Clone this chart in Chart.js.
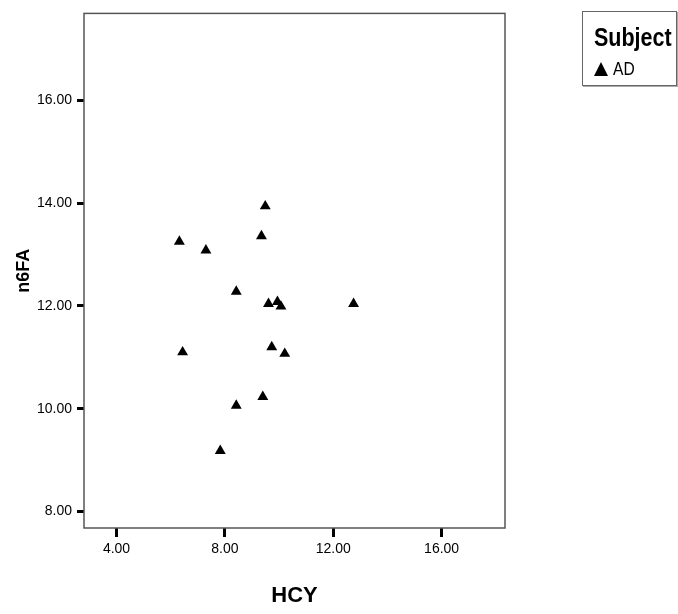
<!DOCTYPE html>
<html lang="en">
<head>
  <meta charset="UTF-8">
  <title>n6FA vs HCY</title>
  <script src="https://cdn.jsdelivr.net/npm/chart.js"></script>
  <style>
    body {
      margin: 0;
      background: #fff;
    }
    .wrap {
      position: relative;
      width: 678px;
      height: 614px;
      overflow: hidden;
    }
    .legend-box {
      position: absolute;
      left: 582px;
      top: 11px;
      width: 93px;
      height: 73px;
      border: 1px solid #666;
      box-shadow: 1px 1px 0 #aaa;
      font-family: "Liberation Sans", Arial, sans-serif;
      background: #fff;
    }
    .legend-title {
      position: absolute;
      left: 11px;
      top: 11px;
      font-weight: bold;
      font-size: 25px;
      line-height: 28px;
      white-space: nowrap;
      transform: scaleX(0.86);
      transform-origin: left center;
    }
    .legend-item {
      position: absolute;
      left: 11px;
      top: 48px;
      font-size: 19px;
      line-height: 18px;
      white-space: nowrap;
    }
    .legend-item .lbl {
      display: inline-block;
      transform: scaleX(0.82);
      transform-origin: left center;
    }
    .tri {
      display: inline-block;
      width: 0;
      height: 0;
      border-left: 7px solid transparent;
      border-right: 7px solid transparent;
      border-bottom: 14px solid #000;
      margin-right: 5px;
      vertical-align: -1px;
    }
  </style>
</head>
<body>
  <div class="wrap">
    <canvas id="chart" width="678" height="614"></canvas>
    <div class="legend-box">
      <div class="legend-title">Subject</div>
      <div class="legend-item"><span class="tri"></span><span class="lbl">AD</span></div>
    </div>
  </div>

  <script>
    // values (group AD)
    const hcy  = [9.49, 9.35, 6.32, 7.30, 8.42, 9.61, 9.94, 10.07, 12.75, 6.44, 9.73, 10.21, 9.40, 8.42, 7.83];
    const n6fa = [13.94, 13.36, 13.25, 13.08, 12.28, 12.04, 12.08, 11.99, 12.04, 11.10, 11.20, 11.07, 10.23, 10.06, 9.18];
    const xTicks = [4, 8, 12, 16];
    const yTicks = [8, 10, 12, 14, 16];

    const points = hcy.map((x, i) => ({ x: x, y: n6fa[i] }));

    const sans = '"Liberation Sans", Arial, sans-serif';

    // outline around the plot area
    const frame = {
      id: 'frame',
      afterDraw(chart) {
        const a = chart.chartArea;
        const c = chart.ctx;
        c.save();
        c.strokeStyle = '#555';
        c.lineWidth = 1.5;
        c.strokeRect(a.left, a.top, a.right - a.left, a.bottom - a.top);
        c.restore();
      }
    };

    new Chart(document.getElementById('chart'), {
      type: 'scatter',
      data: {
        datasets: [{
          label: 'AD',
          data: points,
          pointStyle: 'triangle',
          radius: 6.3,
          hoverRadius: 6.3,
          backgroundColor: '#000',
          borderColor: '#000',
          borderWidth: 0
        }]
      },
      options: {
        responsive: false,
        animation: false,
        layout: { padding: { top: 11, right: 173, left: 0, bottom: 0 } },
        plugins: {
          legend: { display: false },
          tooltip: { enabled: false }
        },
        scales: {
          x: {
            type: 'linear',
            min: 2.8,
            max: 18.34,
            afterBuildTicks: s => { s.ticks = xTicks.map(v => ({ value: v })); },
            afterFit: s => { s.height = 86; },
            grid: { drawOnChartArea: false, drawTicks: true, tickLength: 9, tickWidth: 3, tickColor: '#000' },
            border: { display: false },
            ticks: {
              color: '#000',
              padding: 4,
              maxRotation: 0,
              font: { family: sans, size: 14 },
              callback: v => Number(v).toFixed(2)
            },
            title: {
              display: true,
              text: 'HCY',
              color: '#000',
              font: { family: sans, size: 22, weight: 'bold' },
              padding: { top: 0, bottom: 5 }
            }
          },
          y: {
            type: 'linear',
            min: 7.68,
            max: 17.69,
            afterBuildTicks: s => { s.ticks = yTicks.map(v => ({ value: v })); },
            afterFit: s => { s.width = 84; },
            grid: { drawOnChartArea: false, drawTicks: true, tickLength: 7, tickWidth: 3, tickColor: '#000' },
            border: { display: false },
            ticks: {
              color: '#000',
              padding: 5,
              font: { family: sans, size: 14 },
              callback: v => Number(v).toFixed(2)
            },
            title: {
              display: true,
              text: 'n6FA',
              color: '#000',
              font: { family: sans, size: 18, weight: 'bold' },
              padding: { top: 13, bottom: 0 }
            }
          }
        }
      },
      plugins: [frame]
    });
  </script>
</body>
</html>
